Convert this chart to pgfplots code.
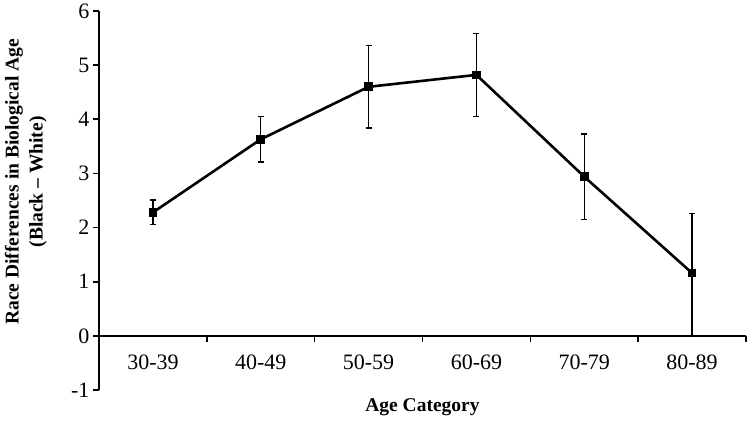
\documentclass[border=0pt]{standalone}
\usepackage{pgfplots}
\pgfplotsset{compat=1.18}
\usepackage{fontspec}
\setmainfont{Liberation Serif}

\begin{document}
\begin{tikzpicture}
\path[use as bounding box] (0,0) rectangle (750pt,421pt);
\begin{axis}[
    at={(99pt,31pt)}, anchor=south west,
    scale only axis, width=647pt, height=379pt,
    xmin=0, xmax=6, ymin=-1, ymax=6,
    axis x line=middle, axis y line=left,
    hide obscured x ticks=false, hide obscured y ticks=false,
    axis line style={-, line width=1.6pt},
    xtick={0,1,2,3,4,5,6},
    x tick label as interval,
    xticklabels={30-39,40-49,50-59,60-69,70-79,80-89},
    ytick={-1,0,1,2,3,4,5,6},
    tick align=outside, xtick align=outside,
    major tick length=6pt,
    tick style={line width=1.6pt, black},
    xticklabel style={yshift=-9pt},
    /pgf/number format/assume math mode=true,
    ticklabel style={font=\fontsize{22}{25}\selectfont},
    xlabel={\textbf{Age Category}},
    ylabel={\textbf{Race Differences in Biological Age}\\[2pt]\textbf{(Black -- White)}},
    label style={font=\fontsize{19.5}{22}\selectfont},
    xlabel style={at={(axis description cs:0.5,-0.045)}, anchor=center},
    ylabel style={at={(axis description cs:-0.113,0.549)}, anchor=center, align=center},
    clip=false,
]
\addplot[black, line width=2.6pt, mark=square*, mark size=3pt,
    error bars/.cd, y dir=both, y explicit,
    error bar style={line width=1.2pt, black},
    error mark options={rotate=90, mark size=3pt, line width=1.2pt, black}]
coordinates {
    (0.5,2.28) += (0,0.23) -= (0,0.23)
    (1.5,3.63) += (0,0.42) -= (0,0.42)
    (2.5,4.60) += (0,0.76) -= (0,0.76)
    (3.5,4.82) += (0,0.77) -= (0,0.77)
    (4.5,2.94) += (0,0.79) -= (0,0.79)
    (5.5,1.16) += (0,1.10) -= (0,1.16)
};
\end{axis}
\end{tikzpicture}
\end{document}
